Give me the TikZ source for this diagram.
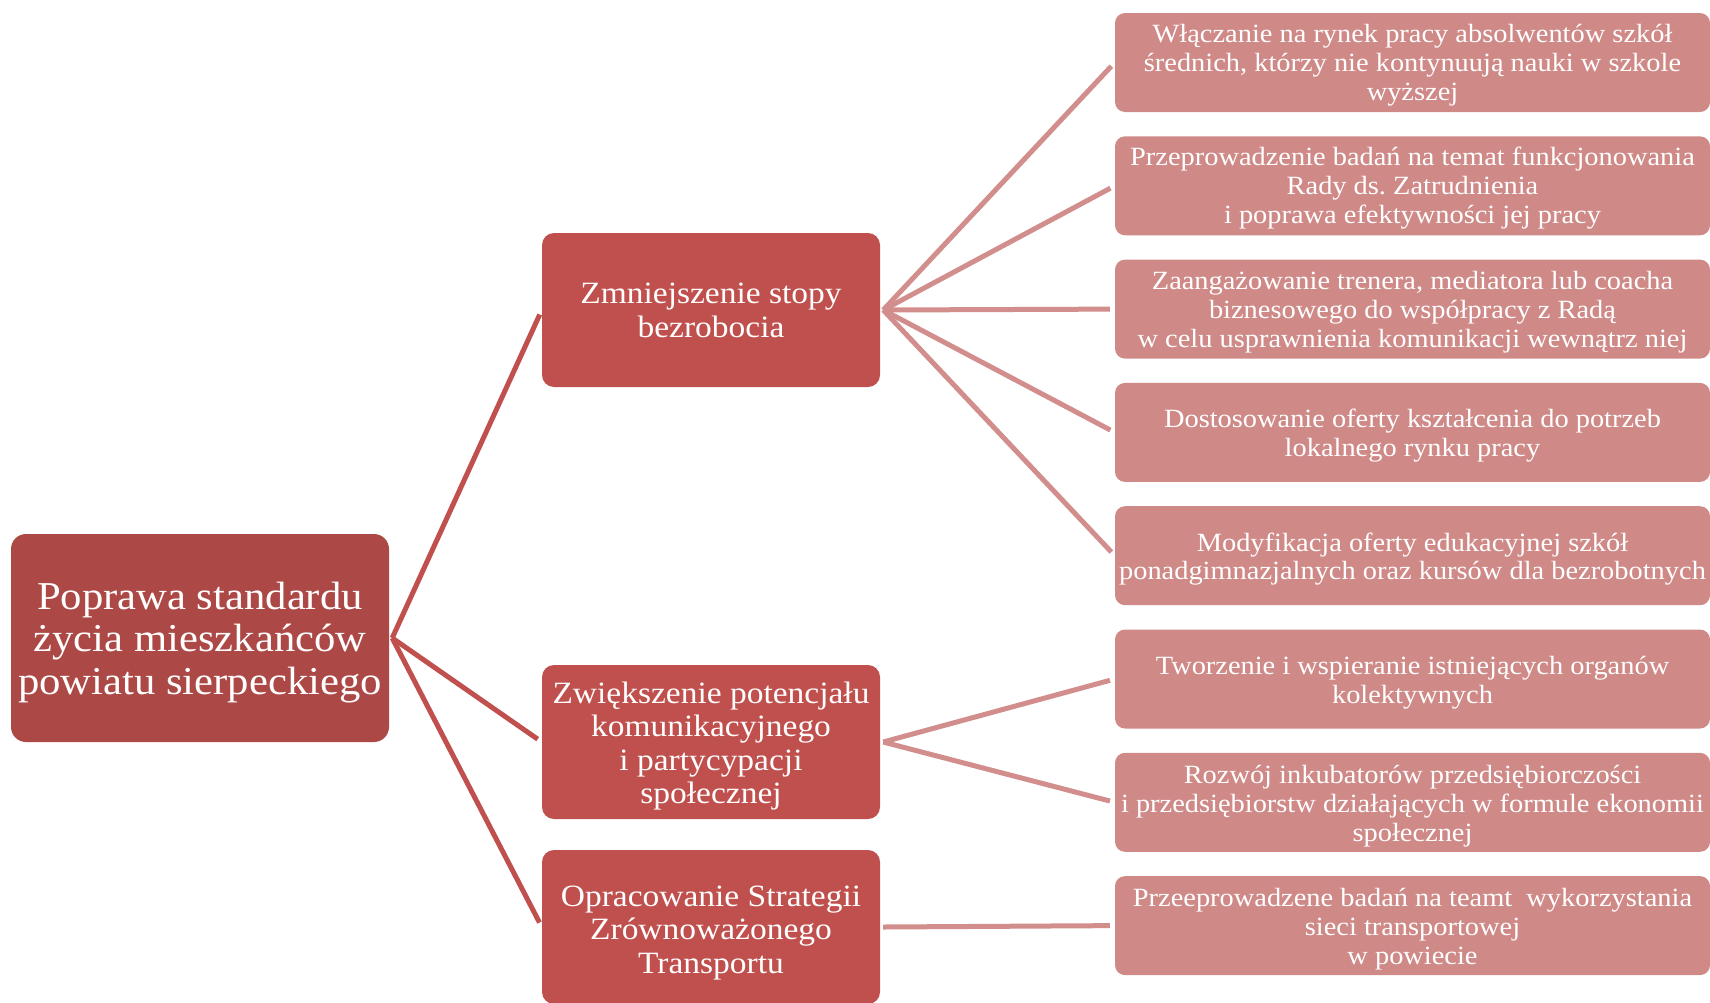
\documentclass[tikz,border=0pt]{standalone}
\usepackage{fontspec}
\setmainfont[FakeStretch=1.08]{Liberation Serif}
\frenchspacing
\definecolor{rootc}{HTML}{AC4946}
\definecolor{midc}{HTML}{C0504D}
\definecolor{leafc}{HTML}{CF8A88}
\definecolor{linkd}{HTML}{C0504D}
\definecolor{linkl}{HTML}{D28E8C}
\tikzset{
  rootbox/.style={fill=rootc, draw=none, rounded corners=15pt, minimum width=378pt, minimum height=208pt, inner sep=0pt},
  midbox/.style={fill=midc, draw=none, rounded corners=12pt, minimum width=338pt, minimum height=154pt, inner sep=0pt},
  leafbox/.style={fill=leafc, draw=none, rounded corners=10pt, minimum width=595pt, minimum height=99pt, inner sep=0pt},
  roottext/.style={inner sep=0pt, align=center, text=white, font=\fontsize{39.5}{42.5}\selectfont},
  midtext/.style={inner sep=0pt, align=center, text=white, font=\fontsize{31}{33.5}\selectfont},
  leaftext/.style={inner sep=0pt, align=center, text=white, font=\fontsize{26.3}{28.8}\selectfont},
  darklink/.style={draw=linkd, line width=5pt, shorten >=5pt},
  lightlink/.style={draw=linkl, line width=5pt, shorten >=5pt},
}
\begin{document}
\begin{tikzpicture}[x=1pt, y=-1pt]
\useasboundingbox (0,0) rectangle (1710,1002);
\node[rootbox] (root) at (200,638) {};
\node[roottext] (roott) at ([yshift=-4.5pt]root.center) {Poprawa standardu\\życia mieszkańców\\powiatu sierpeckiego};
\node[midbox] (m1) at (711,310) {};
\node[midtext] (m1t) at ([yshift=-0.5pt]m1.center) {Zmniejszenie stopy\\bezrobocia};
\node[midbox] (m2) at (711,742) {};
\node[midtext] (m2t) at ([yshift=-4pt]m2.center) {Zwiększenie potencjału\\komunikacyjnego\\i partycypacji\\społecznej};
\node[midbox] (m3) at (711,927) {};
\node[midtext] (m3t) at ([yshift=-6pt]m3.center) {Opracowanie Strategii\\Zrównoważonego\\Transportu};
\node[leafbox] (l1) at (1412.5,62.5) {};
\node[leaftext] (l1t) at ([yshift=-2.5pt]l1.center) {Włączanie na rynek pracy absolwentów szkół\\średnich, którzy nie kontynuują nauki w szkole\\wyższej};
\node[leafbox] (l2) at (1412.5,185.8) {};
\node[leaftext] (l2t) at ([yshift=-2.5pt]l2.center) {Przeprowadzenie badań na temat funkcjonowania\\Rady ds. Zatrudnienia\\i poprawa efektywności jej pracy};
\node[leafbox] (l3) at (1412.5,309.1) {};
\node[leaftext] (l3t) at ([yshift=-3.3pt]l3.center) {Zaangażowanie trenera, mediatora lub coacha\\biznesowego do współpracy z Radą\\w celu usprawnienia komunikacji wewnątrz niej};
\node[leafbox] (l4) at (1412.5,432.4) {};
\node[leaftext] (l4t) at ([yshift=-3.5pt]l4.center) {Dostosowanie oferty kształcenia do potrzeb\\lokalnego rynku pracy};
\node[leafbox] (l5) at (1412.5,555.7) {};
\node[leaftext] (l5t) at ([yshift=-3.3pt]l5.center) {Modyfikacja oferty edukacyjnej szkół\\ponadgimnazjalnych oraz kursów dla bezrobotnych};
\node[leafbox] (l6) at (1412.5,679) {};
\node[leaftext] (l6t) at ([yshift=-3.8pt]l6.center) {Tworzenie i wspieranie istniejących organów\\kolektywnych};
\node[leafbox] (l7) at (1412.5,802.3) {};
\node[leaftext] (l7t) at ([yshift=-3.8pt]l7.center) {Rozwój inkubatorów przedsiębiorczości\\i przedsiębiorstw działających w formule ekonomii\\społecznej};
\node[leafbox] (l8) at (1412.5,925.6) {};
\node[leaftext] (l8t) at ([yshift=-3.8pt]l8.center) {Przeeprowadzene badań na teamt\ \ wykorzystania\\sieci transportowej\\w powiecie};
\coordinate (r0) at ([xshift=3pt]root.east);
\coordinate (a1) at ([xshift=3pt]m1.east);
\coordinate (a2) at ([xshift=3pt]m2.east);
\coordinate (a3) at ([xshift=3pt]m3.east);
\foreach \m in {m1,m2,m3} \draw[darklink] (r0) -- (\m.west);
\foreach \l in {l1,l2,l3,l4,l5} \draw[lightlink] (a1) -- (\l.west);
\foreach \l in {l6,l7} \draw[lightlink] (a2) -- (\l.west);
\draw[lightlink] (a3) -- (l8.west);
\end{tikzpicture}
\end{document}
